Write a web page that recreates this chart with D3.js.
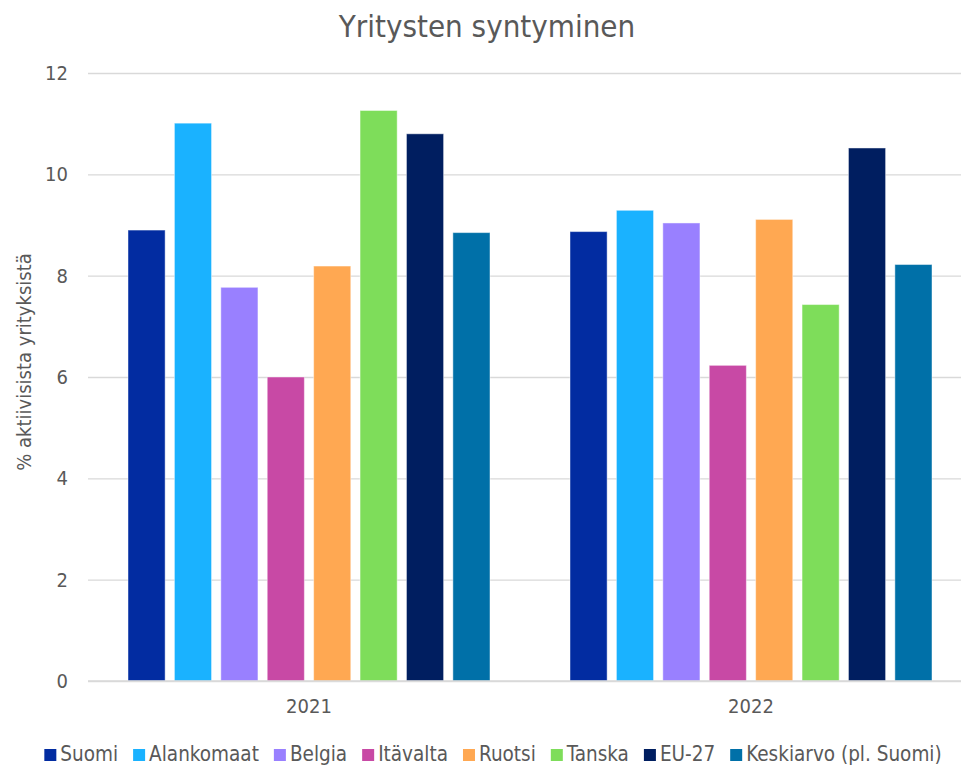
<!DOCTYPE html>
<html>
<head>
<meta charset="utf-8">
<script src="https://cdn.jsdelivr.net/npm/d3@7"></script>
<style>
  html, body { margin: 0; padding: 0; background: #fff; }
  svg { display: block; }
  text { font-family: "DejaVu Sans Condensed", "DejaVu Sans", sans-serif; font-stretch: condensed; fill: #595959; }
</style>
</head>
<body>
<svg id="chart" width="961" height="766"></svg>
<script>
// Firm birth rate, % of active enterprises
const years = ["2021", "2022"];
const countries = ["Suomi", "Alankomaat", "Belgia", "Itävalta", "Ruotsi", "Tanska", "EU-27", "Keskiarvo (pl. Suomi)"];
const values2021 = [8.90, 11.01, 7.77, 6.00, 8.19, 11.26, 10.80, 8.85];
const values2022 = [8.87, 9.29, 9.04, 6.23, 9.11, 7.43, 10.52, 8.22];
const colors = ["#022ca1", "#1ab2ff", "#9980ff", "#c849a5", "#ffa852", "#7edd5a", "#001e60", "#0070a8"];
const yTicks = [0, 2, 4, 6, 8, 10, 12];
const title = "Yritysten syntyminen";
const yTitle = "% aktiivisista yrityksistä";

const seriesByYear = [values2021, values2022];

const svg = d3.select("#chart");
const x0 = 88, x1 = 972, yTop = 73, yBot = 681;

const x = d3.scaleBand().domain(years).range([x0, x1]).paddingInner(0).paddingOuter(0);
const xi = d3.scaleBand().domain(countries).range([40, x.bandwidth() - 40]).paddingInner(0.2).paddingOuter(0);
const y = d3.scaleLinear().domain([0, 12]).range([yBot, yTop]);

// gridlines and tick labels
const yAxis = d3.axisLeft(y).tickValues(yTicks).tickSize(-(x1 - x0)).tickPadding(20).tickFormat(d3.format("d"));
const gy = svg.append("g").attr("transform", `translate(${x0},0)`).call(yAxis);
gy.select(".domain").remove();
gy.selectAll(".tick line").attr("stroke", "#d9d9d9").attr("stroke-width", 1.3);
gy.selectAll(".tick text").attr("font-size", 20).attr("fill", "#595959");

// bars
const groups = svg.append("g").selectAll("g")
  .data(years)
  .join("g")
  .attr("transform", d => `translate(${x(d)},0)`);

groups.selectAll("rect")
  .data((d, i) => countries.map((c, j) => ({ c, v: seriesByYear[i][j], color: colors[j] })))
  .join("rect")
  .attr("x", d => xi(d.c))
  .attr("width", xi.bandwidth())
  .attr("y", d => y(d.v))
  .attr("height", d => y(0) - y(d.v))
  .attr("fill", d => d.color)
  .attr("stroke", "#ffffff")
  .attr("stroke-opacity", 0.45)
  .attr("stroke-width", 1);

// baseline
svg.append("line")
  .attr("x1", x0).attr("x2", x1)
  .attr("y1", y(0)).attr("y2", y(0))
  .attr("stroke", "#d9d9d9").attr("stroke-width", 1.3);

// x axis labels
const xAxis = d3.axisBottom(x).tickSize(0).tickPadding(18);
const gx = svg.append("g").attr("transform", `translate(0,${yBot})`).call(xAxis);
gx.select(".domain").remove();
gx.selectAll(".tick text").attr("font-size", 20).attr("fill", "#595959");

// title
svg.append("text")
  .attr("x", 487).attr("y", 37)
  .attr("text-anchor", "middle")
  .attr("font-size", 31)
  .text(title);

// y axis title
svg.append("text")
  .attr("transform", `translate(31,362) rotate(-90)`)
  .attr("text-anchor", "middle")
  .attr("font-size", 20)
  .text(yTitle);

// legend
const legend = svg.append("g");
let cx = 0;
countries.forEach((c, j) => {
  const item = legend.append("g").attr("transform", `translate(${cx},0)`);
  item.append("rect").attr("x", 0).attr("y", -12).attr("width", 12).attr("height", 12).attr("fill", colors[j]);
  const t = item.append("text").attr("x", 16).attr("y", 0).attr("font-size", 20.5).text(c);
  cx += 16 + t.node().getComputedTextLength() + 15;
});
const legendWidth = cx - 15;
legend.attr("transform", `translate(${493 - legendWidth / 2},761)`);
</script>
</body>
</html>
